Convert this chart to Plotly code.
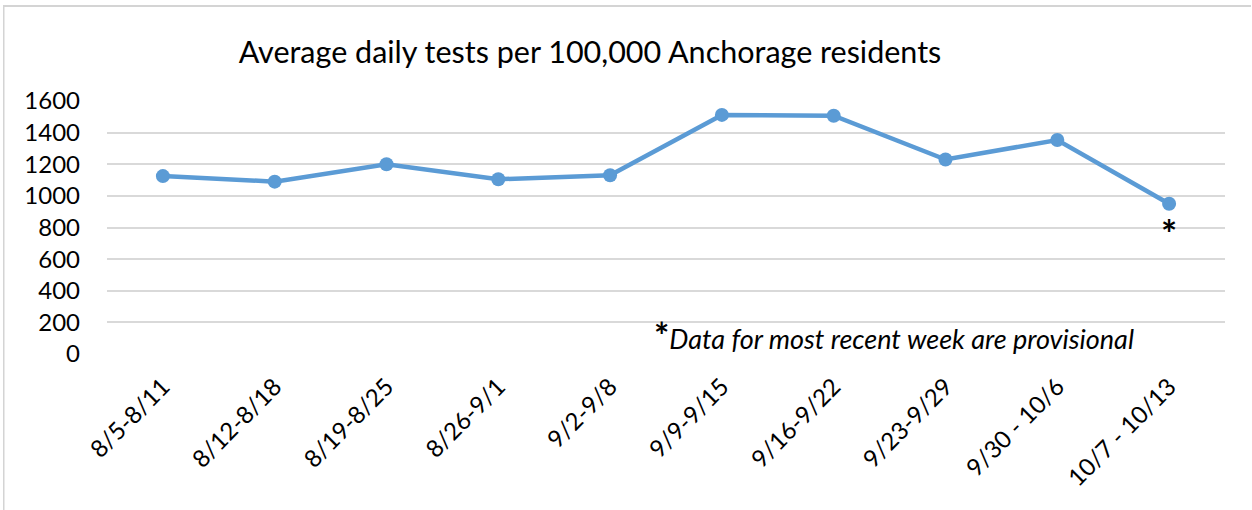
import plotly.graph_objects as go

categories = ["8/5-8/11", "8/12-8/18", "8/19-8/25", "8/26-9/1", "9/2-9/8",
              "9/9-9/15", "9/16-9/22", "9/23-9/29", "9/30 - 10/6", "10/7 - 10/13"]
tests_per_100k = [1125, 1090, 1200, 1105, 1130, 1512, 1507, 1230, 1353, 950]
y_ticks = [0, 200, 400, 600, 800, 1000, 1200, 1400, 1600]

FONT = "Lato"
L, R, T, B = 107, 27, 101, 156
W, H = 1252, 510
pw, ph = W - L - R, H - T - B

fig = go.Figure()
fig.add_trace(go.Scatter(
    x=categories, y=tests_per_100k, mode="lines+markers",
    line=dict(color="#5B9BD5", width=4.5),
    marker=dict(color="#5B9BD5", size=14),
    cliponaxis=False, showlegend=False,
))

fig.add_annotation(x=categories[-1], y=tests_per_100k[-1], text="<b>*</b>",
                   showarrow=False, yshift=-29, font=dict(family=FONT, size=38, color="black"))
fig.add_annotation(x=(1136 - L) / pw, y=-0.02, xref="paper", yref="paper",
                   xanchor="right", yanchor="bottom",
                   text="<b><span style='font-size:36px'>*</span></b><i>Data for most recent week are provisional</i>",
                   showarrow=False, font=dict(family=FONT, size=27, color="black"))

# chart-area border (top and left edges visible)
fig.add_shape(type="rect", xref="paper", yref="paper",
              x0=(3 - L) / pw, x1=(W - 1 - L) / pw,
              y0=(H - B - 7) / ph, y1=(H - B - 5) / ph,
              fillcolor="#d4d4d4", line=dict(width=0), layer="above")
fig.add_shape(type="rect", xref="paper", yref="paper",
              x0=(3 - L) / pw, x1=(4.5 - L) / pw,
              y0=-B / ph, y1=(H - B - 5) / ph,
              fillcolor="#d4d4d4", line=dict(width=0), layer="above")

fig.update_layout(
    width=W, height=H, margin=dict(l=L, r=R, t=T, b=B, autoexpand=False),
    paper_bgcolor="white", plot_bgcolor="white",
    title=dict(text="Average daily tests per 100,000 Anchorage residents",
               x=590 / W, xanchor="center", y=1 - 52 / H, yanchor="middle",
               font=dict(family=FONT, size=30.5, color="black")),
    font=dict(family=FONT, size=24, color="black"),
    xaxis=dict(type="category", range=[-0.5, len(categories) - 0.5], tickangle=-45,
               showgrid=False, showline=False, ticks="", tickfont=dict(size=24),
               ticklabelstandoff=13, automargin=False),
    yaxis=dict(range=[0, 1600], tickvals=y_ticks, showgrid=True, gridcolor="#d9d9d9",
               gridwidth=1.5, zeroline=False, showline=False, tickfont=dict(size=24),
               ticklabelstandoff=26, automargin=False),
)

fig.write_html("out.html", config={"displayModeBar": False},
               post_script="document.body.style.margin='0';")
